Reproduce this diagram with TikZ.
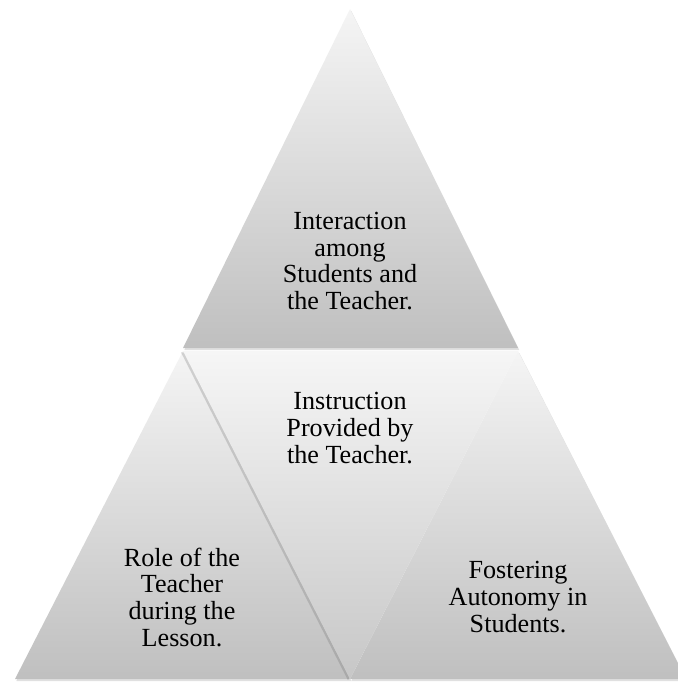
\documentclass[tikz,border=0pt]{standalone}
\usepackage{fontspec}
\setmainfont{Liberation Serif}
\usetikzlibrary{shadows}

\begin{document}
\begin{tikzpicture}[x=0.75pt,y=-0.75pt,
    tri/.style={draw=none,top color=gray!8,bottom color=gray!50,
      drop shadow={shadow xshift=1pt,shadow yshift=-1.5pt,opacity=0.2,fill=black!60}},
    flip/.style={draw=none,top color=gray!7,bottom color=gray!44,
      drop shadow={shadow xshift=-1.5pt,shadow yshift=-1pt,opacity=0.25,fill=black!60}},
    lbl/.style={align=center,text=black,font=\fontsize{19.6}{20}\selectfont}]
    %%%%% START %%%%%
    \def\xl{15}
    \def\xa{183}
    \def\xm{350}
    \def\xb{518}
    \def\xr{686}
    \def\ytop{9}
    \def\ymid{348}
    \def\ylow{351}
    \def\ybot{679}

    \useasboundingbox (0,0) rectangle (677,684);

    \coordinate (apex) at (\xm,\ytop);
    \coordinate (tl) at (\xa,\ymid);
    \coordinate (tr) at (\xb,\ymid);
    \coordinate (ml) at (\xa,\ylow);
    \coordinate (mr) at (\xb,\ylow);
    \coordinate (bl) at (\xl,\ybot);
    \coordinate (bm) at (\xm,\ybot);
    \coordinate (br) at (\xr,\ybot);

    % upper triangle
    \path[tri] (tl) -- (apex) -- (tr) -- cycle;
    % lower left and right triangles
    \path[tri] (bl) -- (ml) -- (bm) -- cycle;
    \path[tri] (bm) -- (mr) -- (br) -- cycle;
    % inverted middle triangle
    \path[flip] (ml) -- (mr) -- (bm) -- cycle;

    \node[lbl] (interaction) at (\xm,261) {Interaction\\among\\Students and\\the Teacher.};
    \node[lbl] (instruction) at (\xm,428) {Instruction\\Provided by\\the Teacher.};
    \node[lbl] (role) at (182,597) {Role of the\\Teacher\\during the\\Lesson.};
    \node[lbl] (fostering) at (518,597) {Fostering\\Autonomy in\\Students.};
    %%%%% END %%%%%
\end{tikzpicture}
\end{document}
